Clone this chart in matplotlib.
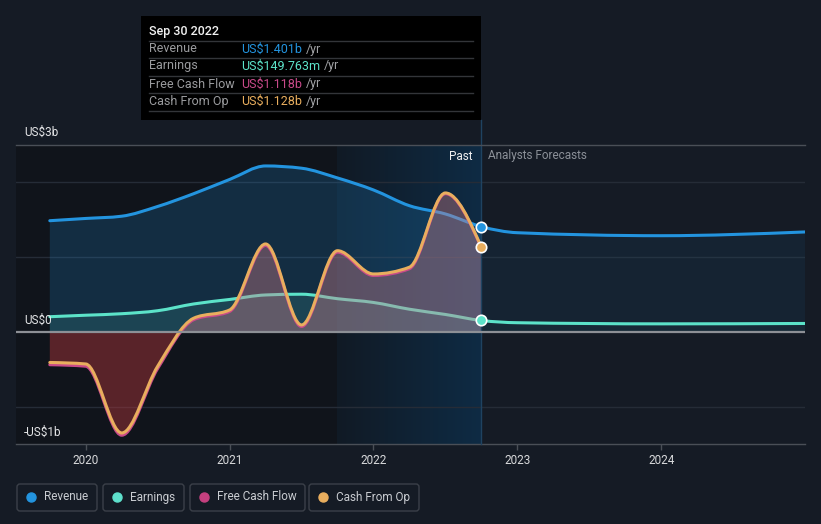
import matplotlib
matplotlib.use("Agg")
import matplotlib.pyplot as plt
import matplotlib.transforms as mtransforms
import numpy as np
from matplotlib.path import Path
from matplotlib.patches import PathPatch, Rectangle, FancyBboxPatch
from matplotlib.lines import Line2D
from matplotlib.colors import LinearSegmentedColormap

plt.rcParams['font.family'] = ['Roboto', 'DejaVu Sans']

# trailing twelve month values (US$ billions), quarterly
past_dates = [2019.75, 2020.0, 2020.25, 2020.5, 2020.75, 2021.0, 2021.25,
              2021.5, 2021.75, 2022.0, 2022.25, 2022.5, 2022.75]
forecast_dates = [2023.0, 2024.0, 2025.0]

revenue_past = [1.48, 1.51, 1.54, 1.67, 1.84, 2.03, 2.21, 2.18, 2.05, 1.89, 1.68, 1.57, 1.401]
revenue_forecast = [1.32, 1.28, 1.33]
earnings_past = [0.20, 0.22, 0.24, 0.28, 0.37, 0.43, 0.49, 0.50, 0.44, 0.39, 0.30, 0.23, 0.1498]
earnings_forecast = [0.12, 0.105, 0.11]
fcf_past = [-0.44, -0.46, -1.38, -0.49, 0.16, 0.27, 1.15, 0.07, 1.06, 0.75, 0.84, 1.84, 1.118]
cfo_past = [-0.41, -0.43, -1.35, -0.46, 0.18, 0.29, 1.17, 0.09, 1.08, 0.77, 0.86, 1.85, 1.128]

year_ticks = [2020, 2021, 2022, 2023, 2024]
series_names = ['Revenue', 'Earnings', 'Free Cash Flow', 'Cash From Op']
tooltip_values = ['US$1.401b', 'US$149.763m', 'US$1.118b', 'US$1.128b']

BG = '#151b25'
C_REV = '#2394df'
C_EARN = '#5ce3c9'
C_FCF = '#c94a8a'
C_CFO = '#e9ae5e'

W, H = 821, 524
fig = plt.figure(figsize=(W / 100, H / 100), dpi=100, facecolor=BG)
px = mtransforms.Affine2D().scale(1 / W, -1 / H).translate(0, 1) + fig.transFigure

ax = fig.add_axes([16 / W, 1 - 444 / H, (805 - 16) / W, (444 - 144.5) / H])
ax.set_facecolor(BG)
x0, x1 = 2019.515, 2025.0
ax.set_xlim(x0, x1)
ax.set_ylim(-1.497, 2.496)


def monotone_path(xs, ys):
    """cubic bezier path through the points, monotone in x (like d3 curveMonotoneX)"""
    xs = np.asarray(xs, float)
    ys = np.asarray(ys, float)
    h = np.diff(xs)
    s = np.diff(ys) / h
    n = len(xs)
    t = np.zeros(n)
    sg = lambda v: -1.0 if v < 0 else 1.0
    for i in range(1, n - 1):
        p = (s[i - 1] * h[i] + s[i] * h[i - 1]) / (h[i - 1] + h[i])
        t[i] = (sg(s[i - 1]) + sg(s[i])) * min(abs(s[i - 1]), abs(s[i]), 0.5 * abs(p))
    t[0] = (3 * s[0] - t[1]) / 2
    t[-1] = (3 * s[-1] - t[-2]) / 2
    verts = [(xs[0], ys[0])]
    codes = [Path.MOVETO]
    for i in range(n - 1):
        d = h[i] / 3
        verts += [(xs[i] + d, ys[i] + t[i] * d),
                  (xs[i + 1] - d, ys[i + 1] - t[i + 1] * d),
                  (xs[i + 1], ys[i + 1])]
        codes += [Path.CURVE4] * 3
    return verts, codes


def line_patch(xs, ys, color, lw=2.2, z=3):
    v, c = monotone_path(xs, ys)
    p = PathPatch(Path(v, c), fill=False, edgecolor=color, lw=lw, zorder=z,
                  capstyle='round', joinstyle='round')
    ax.add_patch(p)
    return p


def fill_patch(xs, ys, color, alpha, z=2, clip=None):
    v, c = monotone_path(xs, ys)
    v = v + [(xs[-1], 0), (xs[0], 0), (xs[0], 0)]
    c = c + [Path.LINETO, Path.LINETO, Path.CLOSEPOLY]
    p = PathPatch(Path(v, c), facecolor=color, edgecolor='none', alpha=alpha, zorder=z)
    ax.add_patch(p)
    if clip is not None:
        rect = Rectangle((clip[0], clip[1]), clip[2] - clip[0], clip[3] - clip[1],
                         transform=ax.transData)
        p.set_clip_path(rect)
    return p


# background regions
ax.axvspan(x0, 2021.75, color='#10141b', zorder=0, lw=0)
grad = LinearSegmentedColormap.from_list('g', ['#111a25', '#0e2b44'])
ax.imshow(np.linspace(0, 1, 200).reshape(1, -1), cmap=grad, aspect='auto',
          extent=[2021.75, 2022.75, -1.497, 2.496], zorder=0, interpolation='bilinear')
ax.set_xlim(x0, x1)
ax.set_ylim(-1.497, 2.496)

# grid
for g in [2, 1, -1]:
    ax.axhline(g, color='#252c37', lw=1, zorder=1)
ax.axhline(0, color='#8d9096', lw=1.6, zorder=6)

rev_x = past_dates + forecast_dates
rev_y = revenue_past + revenue_forecast
earn_x = past_dates + forecast_dates
earn_y = earnings_past + earnings_forecast

# revenue
fill_patch(rev_x, rev_y, C_REV, 0.20, z=1.5, clip=(x0, -5, 2022.75, 5))
fill_patch(rev_x, rev_y, C_REV, 0.07, z=1.5, clip=(2022.75, -5, x1, 5))
line_patch(rev_x, rev_y, C_REV, z=3)

# earnings
fill_patch(earn_x, earn_y, C_EARN, 0.13, z=2, clip=(x0, -5, 2022.75, 5))
fill_patch(earn_x, earn_y, C_EARN, 0.04, z=2, clip=(2022.75, -5, x1, 5))
line_patch(earn_x, earn_y, C_EARN, z=3.2)

# cash flows, filled on top so that older lines look faded
fill_patch(past_dates, cfo_past, '#c97d88', 0.40, z=4, clip=(x0, 0, x1, 5))
fill_patch(past_dates, cfo_past, '#a9353a', 0.48, z=4, clip=(x0, -5, x1, 0))
line_patch(past_dates, fcf_past, C_FCF, z=5)
line_patch(past_dates, cfo_past, C_CFO, z=5.1)

# divider between past and forecasts
ax.plot([2022.75, 2022.75], [-1.497, 2.82], color='#1f4361', lw=1, zorder=5, clip_on=False)

# end-point markers
ax.plot([2022.75], [revenue_past[-1]], 'o', color=C_REV, mec='white', mew=1.2, ms=7.5, zorder=8)
ax.plot([2022.75], [cfo_past[-1]], 'o', color=C_CFO, mec='white', mew=1.2, ms=7.5, zorder=8)
ax.plot([2022.75], [earnings_past[-1]], 'o', color=C_EARN, mec='white', mew=1.2, ms=7.5, zorder=8)

# axes styling
for side in ['left', 'right']:
    ax.spines[side].set_visible(False)
for side in ['top', 'bottom']:
    ax.spines[side].set_color('#4a4f57')
    ax.spines[side].set_linewidth(1)
ax.spines['top'].set_zorder(7)
ax.set_yticks([])
ax.set_xticks(year_ticks)
ax.set_xticklabels([str(y) for y in year_ticks])
ax.tick_params(axis='x', colors='#4a4f57', labelcolor='#d8d9db', labelsize=8.5,
               length=4, width=1, pad=3)

# y labels
fig.text(24, 132, 'US$3b', transform=px, color='#e4e5e7', fontsize=8.5, va='center')
fig.text(24, 320, 'US$0', transform=px, color='#e4e5e7', fontsize=8.5, va='center', zorder=10)
fig.text(24, 432, '-US$1b', transform=px, color='#e4e5e7', fontsize=8.5, va='center', zorder=10)
fig.text(472, 156, 'Past', transform=px, color='#f0f0f0', fontsize=8.5, va='center', ha='right')
fig.text(488, 156, 'Analysts Forecasts', transform=px, color='#8b9098', fontsize=8.5, va='center')

# tooltip
fig.patches.append(Rectangle((141, 16), 340, 104, transform=px, facecolor='#000000',
                             edgecolor='none', zorder=20))
fig.text(149, 31, 'Sep 30 2022', transform=px, color='#f2f2f2', fontsize=9,
         va='center', fontweight='medium', zorder=21)
for yl in [41, 58, 76, 93, 111]:
    fig.add_artist(Line2D([149, 473], [yl, yl], transform=px, color='#333539', lw=1, zorder=21))
row_y = [49, 66, 84, 101]
row_colors = [C_REV, C_EARN, C_FCF, C_CFO]
for name, val, col, yy in zip(series_names, tooltip_values, row_colors, row_y):
    fig.text(149, yy, name, transform=px, color='#9a9b9e', fontsize=9, va='center', zorder=21)
    t = fig.text(241, yy, val, transform=px, color=col, fontsize=9, va='center', zorder=21)
    fig.add_artist(plt.Annotation('/yr', xy=(1, 0.5), xycoords=t, xytext=(2.5, 0),
                                  textcoords='offset points', va='center', color='#a0a1a4',
                                  fontsize=9, zorder=21))

# legend
boxes = [(17, 97), (103, 184), (190, 305), (309, 419)]
legend_colors = [C_REV, '#5ee0cc', '#c5407f', C_CFO]
for (bx0, bx1), name, col in zip(boxes, series_names, legend_colors):
    fig.patches.append(FancyBboxPatch((bx0, 484), bx1 - bx0, 27, transform=px,
                                      boxstyle='round,pad=0,rounding_size=3',
                                      facecolor='none', edgecolor='#3b4049', lw=1))
    fig.add_artist(Line2D([bx0 + 14], [497], transform=px, marker='o', ms=6.5,
                          color=col, lw=0))
    fig.text(bx0 + 27, 497, name, transform=px, color='#c9ccd1', fontsize=8.5, va='center')

fig.savefig('out.png', dpi=100, facecolor=BG)
